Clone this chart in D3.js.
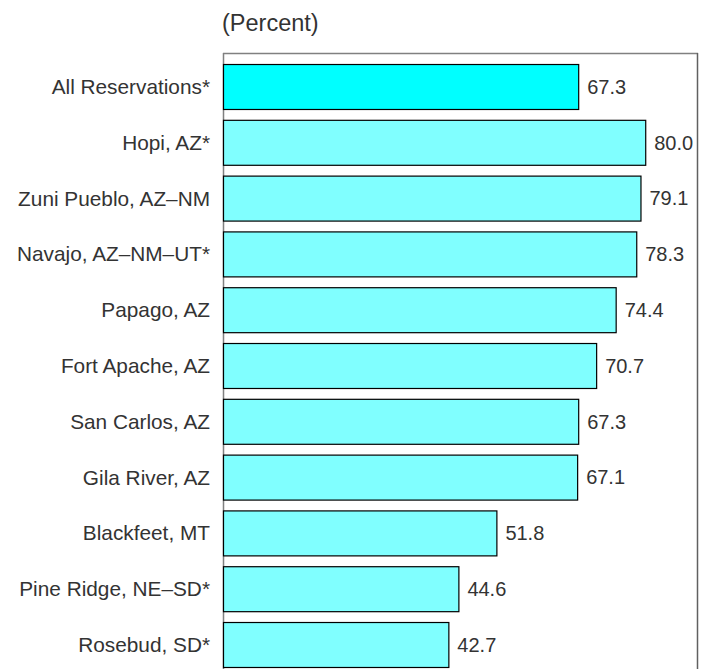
<!DOCTYPE html>
<html>
<head>
<meta charset="utf-8">
<script src="https://cdn.jsdelivr.net/npm/d3@7"></script>
<style>
  body { margin: 0; background: #fff; }
  text { font-family: "Liberation Sans", Arial, sans-serif; fill: #333; }
</style>
</head>
<body>
<div id="chart"></div>
<script>
const categories = [
  'All Reservations*', 'Hopi, AZ*', 'Zuni Pueblo, AZ–NM', 'Navajo, AZ–NM–UT*',
  'Papago, AZ', 'Fort Apache, AZ', 'San Carlos, AZ', 'Gila River, AZ',
  'Blackfeet, MT', 'Pine Ridge, NE–SD*', 'Rosebud, SD*',
];
const values = [67.3, 80.0, 79.1, 78.3, 74.4, 70.7, 67.3, 67.1, 51.8, 44.6, 42.7];
const highlight = ['All Reservations*'];

const size = { width: 708, height: 669 };
const margin = { left: 223, top: 53, right: 10 };

const svg = d3.select('#chart').append('svg')
  .attr('width', size.width)
  .attr('height', size.height);

const x = d3.scaleLinear().domain([0, 90]).range([margin.left, size.width - margin.right]);
const y = d3.scaleBand()
  .domain(categories)
  .range([58.6, 672.4])
  .paddingInner(0.194)
  .paddingOuter(0.097);

// frame
svg.append('line')
  .attr('x1', x(0)).attr('x2', x(90))
  .attr('y1', margin.top + 0.5).attr('y2', margin.top + 0.5)
  .attr('stroke', '#808080').attr('stroke-width', 1.5);
svg.append('line')
  .attr('x1', x(0) + 0.5).attr('x2', x(0) + 0.5)
  .attr('y1', margin.top).attr('y2', size.height)
  .attr('stroke', '#808080').attr('stroke-width', 1.5);
svg.append('line')
  .attr('x1', x(90) - 0.5).attr('x2', x(90) - 0.5)
  .attr('y1', margin.top).attr('y2', size.height)
  .attr('stroke', '#606060').attr('stroke-width', 1.5);

svg.append('text')
  .attr('x', x(0) - 1)
  .attr('y', 31)
  .style('font-size', '23.5px')
  .text('(Percent)');

const rows = svg.selectAll('g.row')
  .data(categories.map((c, i) => ({ cat: c, val: values[i] })))
  .join('g')
  .attr('class', 'row');

rows.append('rect')
  .attr('x', x(0) + 0.5)
  .attr('y', (d) => y(d.cat) + 0.5)
  .attr('width', (d) => x(d.val) - x(0))
  .attr('height', y.bandwidth())
  .attr('fill', (d) => (highlight.includes(d.cat) ? '#00ffff' : '#80ffff'))
  .attr('stroke', '#000')
  .attr('stroke-width', 1.2);

rows.append('text')
  .attr('x', (d) => x(d.val) + 9)
  .attr('y', (d) => y(d.cat) + y.bandwidth() / 2)
  .attr('dy', '0.36em')
  .style('font-size', '20px')
  .text((d) => d.val.toFixed(1));

rows.append('text')
  .attr('x', x(0) - 13)
  .attr('y', (d) => y(d.cat) + y.bandwidth() / 2)
  .attr('dy', '0.36em')
  .attr('text-anchor', 'end')
  .style('font-size', '20.8px')
  .text((d) => d.cat);
</script>
</body>
</html>
